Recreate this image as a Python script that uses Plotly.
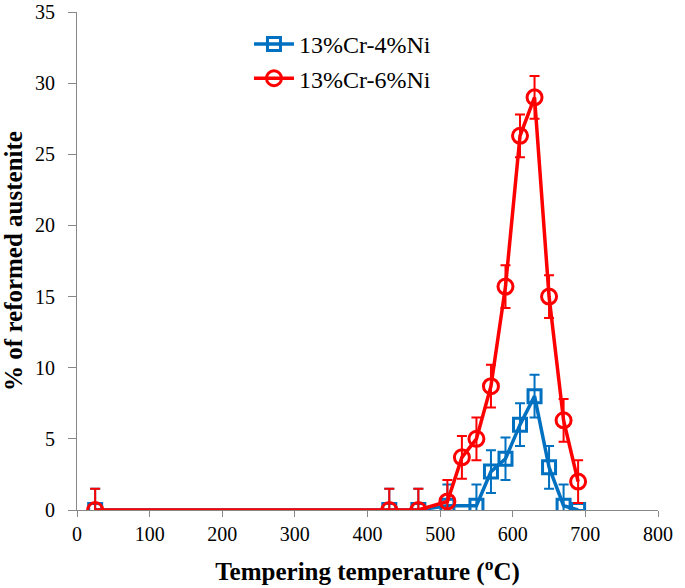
import plotly.graph_objects as go

temp_4ni = [25, 430, 470, 510, 550, 570, 590, 610, 630, 650, 670, 690]
aust_4ni = [0, 0, 0, 0.3, 0.3, 2.7, 3.6, 6.0, 8.0, 3.0, 0.3, 0]
err_4ni = [1.5, 1.5, 1.5, 1.5, 1.5, 1.5, 1.5, 1.5, 1.5, 1.5, 1.5, 0]

temp_6ni = [25, 430, 470, 510, 530, 550, 570, 590, 610, 630, 650, 670, 690]
aust_6ni = [0, 0, 0, 0.6, 3.7, 5.0, 8.7, 15.7, 26.3, 29.0, 15.0, 6.3, 2.0]
err_6ni = [1.5, 1.5, 1.5, 1.5, 1.5, 1.5, 1.5, 1.5, 1.5, 1.5, 1.5, 1.5, 1.5]

blue = "#0070C0"
red = "#FF0000"
font = "Liberation Serif"

fig = go.Figure()
fig.add_trace(go.Scatter(
    x=temp_4ni, y=aust_4ni, name="13%Cr-4%Ni", mode="lines+markers",
    line=dict(color=blue, width=3.5),
    marker=dict(symbol="square-open", size=13, color=blue, line=dict(width=3, color=blue)),
    error_y=dict(type="data", array=err_4ni, visible=True, color=blue, thickness=2, width=5),
    legendgroup="a",
))
fig.add_trace(go.Scatter(
    x=temp_6ni, y=aust_6ni, name="13%Cr-6%Ni", mode="lines+markers",
    line=dict(color=red, width=3.5),
    marker=dict(symbol="circle-open", size=15, color=red, line=dict(width=3, color=red)),
    error_y=dict(type="data", array=err_6ni, visible=True, color=red, thickness=2, width=5),
    legendgroup="b",
))

fig.update_layout(
    width=685, height=588,
    margin=dict(l=77, r=27, t=12, b=78),
    paper_bgcolor="white", plot_bgcolor="white",
    font=dict(family=font, size=20, color="black"),
    showlegend=True,
    legend=dict(x=0.296, y=0.98, xanchor="left", yanchor="top",
                bgcolor="rgba(0,0,0,0)", font=dict(family=font, size=24),
                tracegroupgap=7, traceorder="normal", itemwidth=40),
    xaxis=dict(range=[0, 800], tickvals=[0, 100, 200, 300, 400, 500, 600, 700, 800],
               showgrid=False, zeroline=False, showline=True, linecolor="#888888", linewidth=1,
               ticks="outside", ticklen=6, tickcolor="#888888", automargin=False,
               tickfont=dict(family=font, size=20),
               title=dict(text="<b>Tempering temperature (<sup>o</sup>C)</b>",
                          font=dict(family=font, size=25), standoff=18)),
    yaxis=dict(range=[0, 35], tickvals=[0, 5, 10, 15, 20, 25, 30, 35],
               showgrid=False, zeroline=False, showline=True, linecolor="#888888", linewidth=1,
               ticks="outside", ticklen=8, tickcolor="#888888", automargin=False,
               ticklabelstandoff=9,
               tickfont=dict(family=font, size=20),
               title=dict(text="<b>% of reformed austenite</b>",
                          font=dict(family=font, size=25), standoff=9)),
)

fig.write_html("out.html", config={"displayModeBar": False},
               post_script="document.body.style.margin='0';")
